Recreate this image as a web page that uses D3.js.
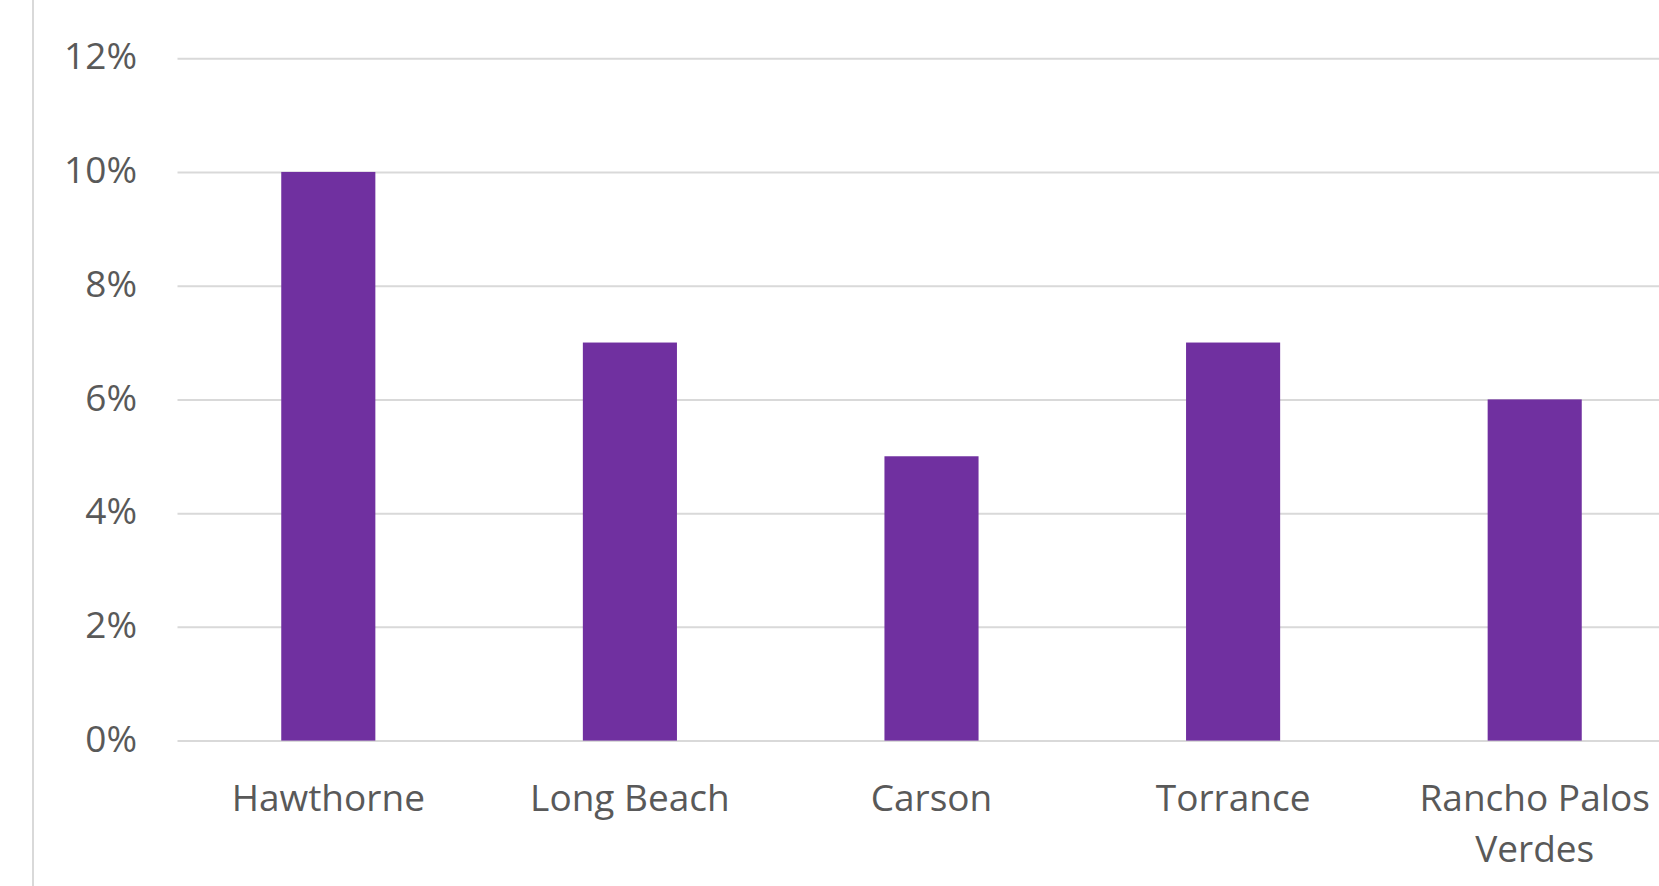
<!DOCTYPE html>
<html>
<head>
<meta charset="utf-8">
<script src="https://cdn.jsdelivr.net/npm/d3@7"></script>
<style>
  html, body { margin: 0; padding: 0; background: #fff; overflow: hidden; }
  svg { display: block; }
  .axis text { font-family: 'Open Sans', sans-serif; font-size: 37px; fill: #595959; }
</style>
</head>
<body>
<svg id="chart"></svg>
<script>
const categories = ['Hawthorne', 'Long Beach', 'Carson', 'Torrance', 'Rancho Palos Verdes'];
const values = [0.10, 0.07, 0.05, 0.07, 0.06];
const yTicks = [0, 0.02, 0.04, 0.06, 0.08, 0.10, 0.12];

const width = 1659;
const height = 886;
const margin = { top: 58.2, left: 177.5, bottom: 145.4 };
const bandStep = 301.6;

const chart = d3.select('#chart').attr('width', width).attr('height', height);

const xScale = d3
  .scaleBand()
  .domain(categories)
  .range([margin.left, margin.left + bandStep * categories.length])
  .paddingInner(0.688)
  .paddingOuter(0.344);

const yScale = d3
  .scaleLinear()
  .domain([0, 0.12])
  .range([height - margin.bottom, margin.top]);

// left border line
chart
  .append('line')
  .attr('x1', 33)
  .attr('x2', 33)
  .attr('y1', 0)
  .attr('y2', height)
  .style('stroke', '#d9d9d9')
  .style('stroke-width', 2);

// y axis + gridlines
const yAxis = chart
  .append('g')
  .attr('class', 'y-axis axis')
  .attr('transform', `translate(${margin.left},0)`)
  .call(
    d3.axisLeft(yScale)
      .tickValues(yTicks)
      .tickFormat(d3.format('.0%'))
      .tickSize(-(width - margin.left))
      .tickPadding(40.5)
  );
yAxis.select('.domain').remove();
yAxis.selectAll('.tick line').style('stroke', '#d9d9d9').style('stroke-width', 2);
yAxis.selectAll('.tick text').attr('dy', '0.29em');

// bars
chart
  .append('g')
  .attr('class', 'bars')
  .selectAll('rect')
  .data(categories)
  .join('rect')
  .attr('x', (d) => xScale(d))
  .attr('y', (d, i) => yScale(values[i]))
  .attr('width', xScale.bandwidth())
  .attr('height', (d, i) => yScale(0) - yScale(values[i]))
  .attr('fill', '#7030a0');

// x axis labels
const xAxis = chart
  .append('g')
  .attr('class', 'x-axis axis')
  .attr('transform', `translate(0,${yScale(0)})`)
  .call(d3.axisBottom(xScale).tickSize(0).tickPadding(44));
xAxis.select('.domain').remove();

function wrap(text, maxWidth) {
  text.each(function () {
    const el = d3.select(this);
    const words = el.text().split(/\s+/);
    const y = el.attr('y');
    el.text(null);
    let line = [];
    let lineNo = 0;
    let tspan = el.append('tspan').attr('x', 0).attr('y', y).attr('dy', '0.71em');
    words.forEach((w) => {
      line.push(w);
      tspan.text(line.join(' '));
      if (tspan.node().getComputedTextLength() > maxWidth && line.length > 1) {
        line.pop();
        tspan.text(line.join(' '));
        line = [w];
        lineNo++;
        tspan = el
          .append('tspan')
          .attr('x', 0)
          .attr('y', y)
          .attr('dy', `${0.71 + lineNo * 1.37}em`)
          .text(w);
      }
    });
  });
}
xAxis.selectAll('.tick text').call(wrap, xScale.step() - 10);
</script>
</body>
</html>
